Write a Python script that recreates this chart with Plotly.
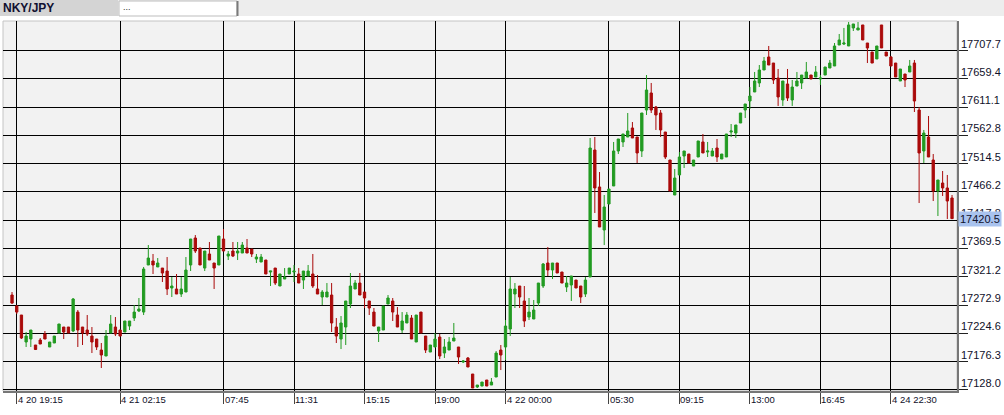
import plotly.graph_objects as go

# ---------------- data ----------------
opens = [17290.0, 17271.2, 17255.8, 17209.7, 17214.8, 17204.6, 17213.1, 17223.4, 17201.2, 17208.0,
         17225.1, 17235.3, 17235.3, 17228.5, 17260.9, 17235.3, 17230.2, 17219.9, 17214.8, 17196.0,
         17185.8, 17225.1, 17235.3, 17230.2, 17226.8, 17237.0, 17250.7, 17262.7, 17260.9, 17341.3,
         17348.1, 17337.9, 17336.1, 17331.0, 17302.0, 17300.3, 17291.7, 17295.1, 17341.3, 17387.4,
         17370.3, 17336.1, 17360.1, 17344.7, 17341.3, 17385.7, 17356.6, 17365.2, 17361.8, 17361.8,
         17370.3, 17368.6, 17351.5, 17346.4, 17349.8, 17329.3, 17336.1, 17305.4, 17317.3, 17325.9,
         17329.3, 17325.9, 17315.6, 17322.5, 17325.9, 17300.3, 17286.6, 17286.6, 17290.0, 17235.3,
         17214.8, 17235.3, 17274.6, 17300.3, 17310.5, 17295.1, 17279.8, 17260.9, 17228.5, 17230.2,
         17274.6, 17279.8, 17255.8, 17230.2, 17242.2, 17250.7, 17209.7, 17260.9, 17219.9, 17192.6,
         17201.2, 17218.2, 17190.9, 17196.0, 17211.4, 17201.2, 17175.5, 17182.4, 17155.0, 17132.8,
         17134.5, 17144.8, 17136.2, 17149.9, 17196.0, 17201.2, 17231.9, 17291.7, 17305.4, 17279.8,
         17252.4, 17249.0, 17276.3, 17305.4, 17344.7, 17332.7, 17344.7, 17329.3, 17303.7, 17307.1,
         17315.6, 17305.4, 17291.7, 17320.8, 17537.8, 17474.6, 17401.1, 17445.5, 17476.3, 17536.1,
         17551.5, 17560.0, 17575.4, 17560.0, 17536.1, 17606.1, 17635.2, 17611.3, 17601.0, 17568.5,
         17520.7, 17460.9, 17495.1, 17527.5, 17530.9, 17510.4, 17525.8, 17551.5, 17534.4, 17527.5,
         17541.2, 17522.4, 17525.8, 17568.5, 17566.8, 17583.9, 17606.1, 17621.5, 17636.9, 17652.3,
         17674.5, 17696.7, 17686.4, 17660.8, 17623.2, 17650.6, 17623.2, 17647.1, 17652.3, 17660.8,
         17665.9, 17662.5, 17659.1, 17665.9, 17677.9, 17681.3, 17717.2, 17718.9, 17715.5, 17746.3,
         17742.8, 17751.4, 17720.6, 17705.2, 17693.3, 17751.4, 17705.2, 17696.7, 17686.4, 17655.7,
         17667.6, 17671.1, 17686.4, 17606.1, 17536.1, 17560.0, 17520.7, 17467.7, 17481.4, 17472.9,
         17455.8]
highs = [17295.1, 17272.9, 17255.8, 17226.8, 17230.2, 17204.6, 17216.5, 17228.5, 17209.7, 17219.9,
         17240.5, 17235.3, 17235.3, 17284.9, 17264.4, 17235.3, 17255.8, 17235.3, 17214.8, 17208.0,
         17230.2, 17255.8, 17252.4, 17230.2, 17245.6, 17245.6, 17272.9, 17284.9, 17337.9, 17375.4,
         17360.1, 17353.2, 17336.1, 17354.9, 17320.8, 17325.9, 17320.8, 17354.9, 17385.7, 17392.5,
         17370.3, 17365.2, 17380.6, 17344.7, 17390.8, 17402.8, 17365.2, 17380.6, 17380.6, 17380.6,
         17385.7, 17368.6, 17360.1, 17360.1, 17349.8, 17331.0, 17336.1, 17325.9, 17336.1, 17336.1,
         17341.3, 17336.1, 17331.0, 17341.3, 17360.1, 17324.2, 17298.5, 17310.5, 17310.5, 17250.7,
         17254.1, 17279.8, 17327.6, 17315.6, 17327.6, 17295.1, 17279.8, 17267.8, 17235.3, 17271.2,
         17290.0, 17284.9, 17269.5, 17260.9, 17260.9, 17255.8, 17255.8, 17260.9, 17219.9, 17204.6,
         17225.1, 17223.4, 17214.8, 17218.2, 17242.2, 17201.2, 17178.9, 17184.1, 17155.0, 17136.2,
         17141.3, 17144.8, 17148.2, 17194.3, 17204.6, 17247.3, 17320.8, 17310.5, 17305.4, 17305.4,
         17284.9, 17281.5, 17310.5, 17344.7, 17372.0, 17344.7, 17344.7, 17329.3, 17322.5, 17322.5,
         17315.6, 17305.4, 17320.8, 17558.3, 17560.0, 17500.2, 17460.9, 17471.1, 17551.5, 17556.6,
         17565.1, 17601.0, 17585.6, 17560.0, 17601.0, 17665.9, 17652.3, 17613.0, 17606.1, 17568.5,
         17520.7, 17505.3, 17534.4, 17536.1, 17530.9, 17520.7, 17553.2, 17565.1, 17551.5, 17541.2,
         17556.6, 17530.9, 17565.1, 17582.2, 17580.5, 17601.0, 17616.4, 17645.4, 17671.1, 17683.0,
         17696.7, 17715.5, 17686.4, 17676.2, 17655.7, 17676.2, 17657.4, 17671.1, 17665.9, 17688.2,
         17665.9, 17681.3, 17665.9, 17679.6, 17691.6, 17720.6, 17736.0, 17746.3, 17756.5, 17753.1,
         17756.5, 17751.4, 17720.6, 17705.2, 17715.5, 17751.4, 17705.2, 17698.4, 17686.4, 17676.2,
         17667.6, 17691.6, 17691.6, 17611.3, 17572.0, 17595.9, 17530.9, 17486.5, 17501.9, 17495.1,
         17460.9]
lows = [17274.6, 17257.5, 17214.8, 17201.2, 17201.2, 17196.0, 17206.3, 17214.8, 17201.2, 17208.0,
        17225.1, 17214.8, 17225.1, 17226.8, 17201.2, 17204.6, 17219.9, 17190.9, 17196.0, 17165.3,
        17185.8, 17225.1, 17219.9, 17219.9, 17226.8, 17230.2, 17245.6, 17260.9, 17255.8, 17341.3,
        17325.9, 17337.9, 17312.2, 17290.0, 17286.6, 17291.7, 17286.6, 17295.1, 17331.0, 17361.8,
        17341.3, 17331.0, 17349.8, 17300.3, 17341.3, 17365.2, 17349.8, 17354.9, 17349.8, 17361.8,
        17361.8, 17354.9, 17344.7, 17346.4, 17325.9, 17305.4, 17307.1, 17305.4, 17317.3, 17325.9,
        17312.2, 17310.5, 17300.3, 17322.5, 17302.0, 17291.7, 17272.9, 17286.6, 17226.8, 17208.0,
        17197.7, 17204.6, 17267.8, 17300.3, 17290.0, 17267.8, 17255.8, 17237.0, 17209.7, 17230.2,
        17274.6, 17245.6, 17235.3, 17225.1, 17242.2, 17214.8, 17209.7, 17225.1, 17190.9, 17192.6,
        17201.2, 17180.6, 17182.4, 17196.0, 17211.4, 17172.1, 17173.8, 17167.0, 17131.1, 17131.1,
        17134.5, 17134.5, 17136.2, 17149.9, 17161.8, 17178.9, 17219.9, 17267.8, 17267.8, 17235.3,
        17247.3, 17249.0, 17271.2, 17302.0, 17322.5, 17317.3, 17327.6, 17310.5, 17295.1, 17279.8,
        17302.0, 17276.3, 17286.6, 17320.8, 17430.1, 17406.2, 17375.4, 17445.5, 17476.3, 17530.9,
        17542.9, 17560.0, 17558.3, 17515.6, 17525.8, 17597.6, 17601.0, 17572.0, 17560.0, 17522.4,
        17467.7, 17460.9, 17495.1, 17507.0, 17515.6, 17510.4, 17525.8, 17532.7, 17525.8, 17527.5,
        17517.3, 17522.4, 17525.8, 17560.0, 17558.3, 17583.9, 17592.5, 17607.8, 17636.9, 17645.4,
        17674.5, 17683.0, 17650.6, 17613.0, 17613.0, 17621.5, 17613.0, 17647.1, 17642.0, 17660.8,
        17659.1, 17662.5, 17648.9, 17665.9, 17677.9, 17681.3, 17717.2, 17717.2, 17715.5, 17741.1,
        17742.8, 17725.8, 17686.4, 17686.4, 17693.3, 17712.1, 17698.4, 17681.3, 17662.5, 17655.7,
        17645.4, 17671.1, 17602.7, 17447.2, 17515.6, 17525.8, 17450.6, 17425.0, 17459.2, 17419.9,
        17419.9]
closes = [17276.3, 17260.9, 17216.5, 17219.9, 17230.2, 17196.9, 17206.3, 17214.8, 17209.7, 17219.9,
          17240.5, 17226.8, 17225.1, 17283.2, 17230.2, 17225.1, 17223.4, 17209.7, 17201.2, 17187.5,
          17219.9, 17240.5, 17223.4, 17219.9, 17245.6, 17245.6, 17260.9, 17266.1, 17334.4, 17353.2,
          17341.3, 17344.7, 17327.6, 17300.3, 17305.4, 17291.7, 17300.3, 17332.7, 17385.7, 17365.2,
          17341.3, 17365.2, 17349.8, 17336.1, 17390.8, 17365.2, 17360.1, 17356.6, 17365.2, 17375.4,
          17361.8, 17360.1, 17354.9, 17354.9, 17325.9, 17331.0, 17310.5, 17325.9, 17320.8, 17336.1,
          17331.0, 17310.5, 17331.0, 17331.0, 17305.4, 17291.7, 17295.1, 17295.1, 17242.2, 17219.9,
          17242.2, 17279.8, 17305.4, 17310.5, 17290.0, 17284.9, 17267.8, 17237.0, 17235.3, 17271.2,
          17284.9, 17260.9, 17235.3, 17245.6, 17255.8, 17214.8, 17255.8, 17225.1, 17196.0, 17204.6,
          17214.8, 17185.8, 17201.2, 17209.7, 17216.5, 17184.1, 17177.2, 17167.0, 17131.1, 17136.2,
          17141.3, 17134.5, 17141.3, 17190.9, 17187.5, 17237.0, 17300.3, 17300.3, 17286.6, 17245.6,
          17260.9, 17264.4, 17310.5, 17343.0, 17332.7, 17344.7, 17327.6, 17310.5, 17310.5, 17322.5,
          17302.0, 17286.6, 17315.6, 17541.2, 17472.9, 17406.2, 17440.4, 17471.1, 17536.1, 17556.6,
          17565.1, 17570.3, 17558.3, 17532.7, 17601.0, 17640.3, 17606.1, 17597.6, 17572.0, 17525.8,
          17467.7, 17489.9, 17525.8, 17536.1, 17515.6, 17520.7, 17553.2, 17532.7, 17536.1, 17536.1,
          17525.8, 17530.9, 17565.1, 17570.3, 17580.5, 17601.0, 17616.4, 17630.1, 17655.7, 17674.5,
          17689.9, 17683.0, 17657.4, 17628.4, 17655.7, 17626.6, 17645.4, 17655.7, 17665.9, 17671.1,
          17659.1, 17671.1, 17660.8, 17679.6, 17686.4, 17715.5, 17725.8, 17720.6, 17751.4, 17753.1,
          17746.3, 17725.8, 17712.1, 17686.4, 17715.5, 17712.1, 17698.4, 17681.3, 17662.5, 17676.2,
          17657.4, 17681.3, 17621.5, 17532.7, 17566.8, 17525.8, 17467.7, 17486.5, 17472.9, 17450.6,
          17420.5]
bar_index = list(range(len(opens)))

time_tick_index = [1, 23, 45, 60, 75, 90, 105, 127, 142, 157, 172, 187]
time_tick_labels = ["4 20 19:15", "4 21 02:15", "07:45", "11:31", "15:15", "19:00",
                    "4 22 00:00", "05:30", "09:15", "13:00", "16:45", "4 24 22:30"]

price_ticks = [17128.0, 17176.3, 17224.6, 17272.9, 17321.2, 17369.5, 17417.8,
               17466.2, 17514.5, 17562.8, 17611.1, 17659.4, 17707.7]
price_labels = ["17128.0", "17176.3", "17224.6", "17272.9", "17321.2", "17369.5", "17417.8",
                "17466.2", "17514.5", "17562.8", "17611.1", "17659.4", "17707.7"]
last_price = 17420.5
symbol = "NKY/JPY"

# ---------------- layout geometry ----------------
W, H = 1004, 415
ML, MR, MT, MB = 3, 47, 21, 24
PW, PH = W - ML - MR, H - MT - MB

def px_x(px):
    return (px - ML) / PW

def px_y(py):
    return (H - MB - py) / PH

GREEN = "#229b22"
RED = "#aa0a0a"

fig = go.Figure()
fig.add_trace(go.Candlestick(
    x=bar_index, open=opens, high=highs, low=lows, close=closes,
    increasing=dict(line=dict(color=GREEN, width=1), fillcolor=GREEN),
    decreasing=dict(line=dict(color=RED, width=1), fillcolor=RED),
    whiskerwidth=0, showlegend=False, hoverinfo="skip",
))

annotations = []
for v, t in zip(price_ticks, price_labels):
    annotations.append(dict(
        x=1, xref="paper", xanchor="left", xshift=2,
        y=v, yref="y", yanchor="bottom", yshift=-1,
        text=t, showarrow=False,
        font=dict(family="Liberation Sans, Arial, sans-serif", size=11, color="#10102a"),
    ))
annotations.append(dict(
    x=1, xref="paper", xanchor="left", xshift=1,
    y=last_price, yref="y", yanchor="middle",
    text=f"{last_price:.1f}", showarrow=False, bgcolor="#a9c3ee", borderpad=1,
    font=dict(family="Liberation Sans, Arial, sans-serif", size=11, color="#10102a"),
))
for i, t in zip(time_tick_index, time_tick_labels):
    annotations.append(dict(
        x=i, xref="x", xanchor="left", xshift=-1,
        y=0, yref="paper", yanchor="top", yshift=-1,
        text=t, showarrow=False,
        font=dict(family="Liberation Sans, Arial, sans-serif", size=9.5, color="#10102a"),
    ))
annotations.append(dict(
    x=px_x(1), xref="paper", xanchor="left",
    y=px_y(8), yref="paper", yanchor="middle",
    text=f"<b>{symbol}</b>", showarrow=False,
    font=dict(family="Liberation Sans, Arial, sans-serif", size=12, color="#101030"),
))
annotations.append(dict(
    x=px_x(121), xref="paper", xanchor="left",
    y=px_y(7), yref="paper", yanchor="middle",
    text="...", showarrow=False,
    font=dict(family="Liberation Sans, Arial, sans-serif", size=9, color="#333333"),
))

shapes = [
    # header strip
    dict(type="rect", xref="paper", yref="paper", x0=px_x(0), x1=px_x(W), y0=px_y(16), y1=px_y(0),
         fillcolor="#ededed", line=dict(width=0), layer="below"),
    dict(type="rect", xref="paper", yref="paper", x0=px_x(0), x1=px_x(118), y0=px_y(16), y1=px_y(0),
         fillcolor="#d4d4d4", line=dict(width=0), layer="below"),
    dict(type="rect", xref="paper", yref="paper", x0=px_x(119), x1=px_x(237), y0=px_y(16), y1=px_y(1),
         fillcolor="#ffffff", line=dict(color="#bdbdbd", width=1), layer="below"),
    dict(type="line", xref="paper", yref="paper", x0=px_x(237.5), x1=px_x(237.5), y0=px_y(16), y1=px_y(1),
         line=dict(color="#7a7a7a", width=2), layer="below"),
    # light frame around plot (left/top)
    dict(type="rect", xref="paper", yref="paper", x0=0, x1=1, y0=0, y1=1,
         line=dict(color="#c4c4c4", width=1), fillcolor="rgba(0,0,0,0)", layer="below"),
]

fig.update_layout(
    width=W, height=H,
    margin=dict(l=ML, r=MR, t=MT, b=MB, pad=0),
    paper_bgcolor="#ffffff", plot_bgcolor="#f2f2f2",
    showlegend=False,
    annotations=annotations, shapes=shapes,
    xaxis=dict(
        range=[-1.92, 201.06], rangeslider=dict(visible=False),
        tickvals=time_tick_index, showticklabels=False,
        ticks="outside", ticklen=11, tickcolor="#444444", tickwidth=1,
        showgrid=True, gridcolor="#000000", gridwidth=1, zeroline=False,
        showline=True, linecolor="#777777", linewidth=2,
        fixedrange=True,
    ),
    yaxis=dict(
        range=[17126.0, 17758.2], side="right",
        tickvals=price_ticks, showticklabels=False,
        ticks="outside", ticklen=9, tickcolor="#222222", tickwidth=1,
        showgrid=True, gridcolor="#000000", gridwidth=1, zeroline=False,
        showline=True, linecolor="#777777", linewidth=2,
        fixedrange=True,
    ),
)

fig.write_html("out.html", config={"displayModeBar": False},
               post_script="document.body.style.margin='0';")
